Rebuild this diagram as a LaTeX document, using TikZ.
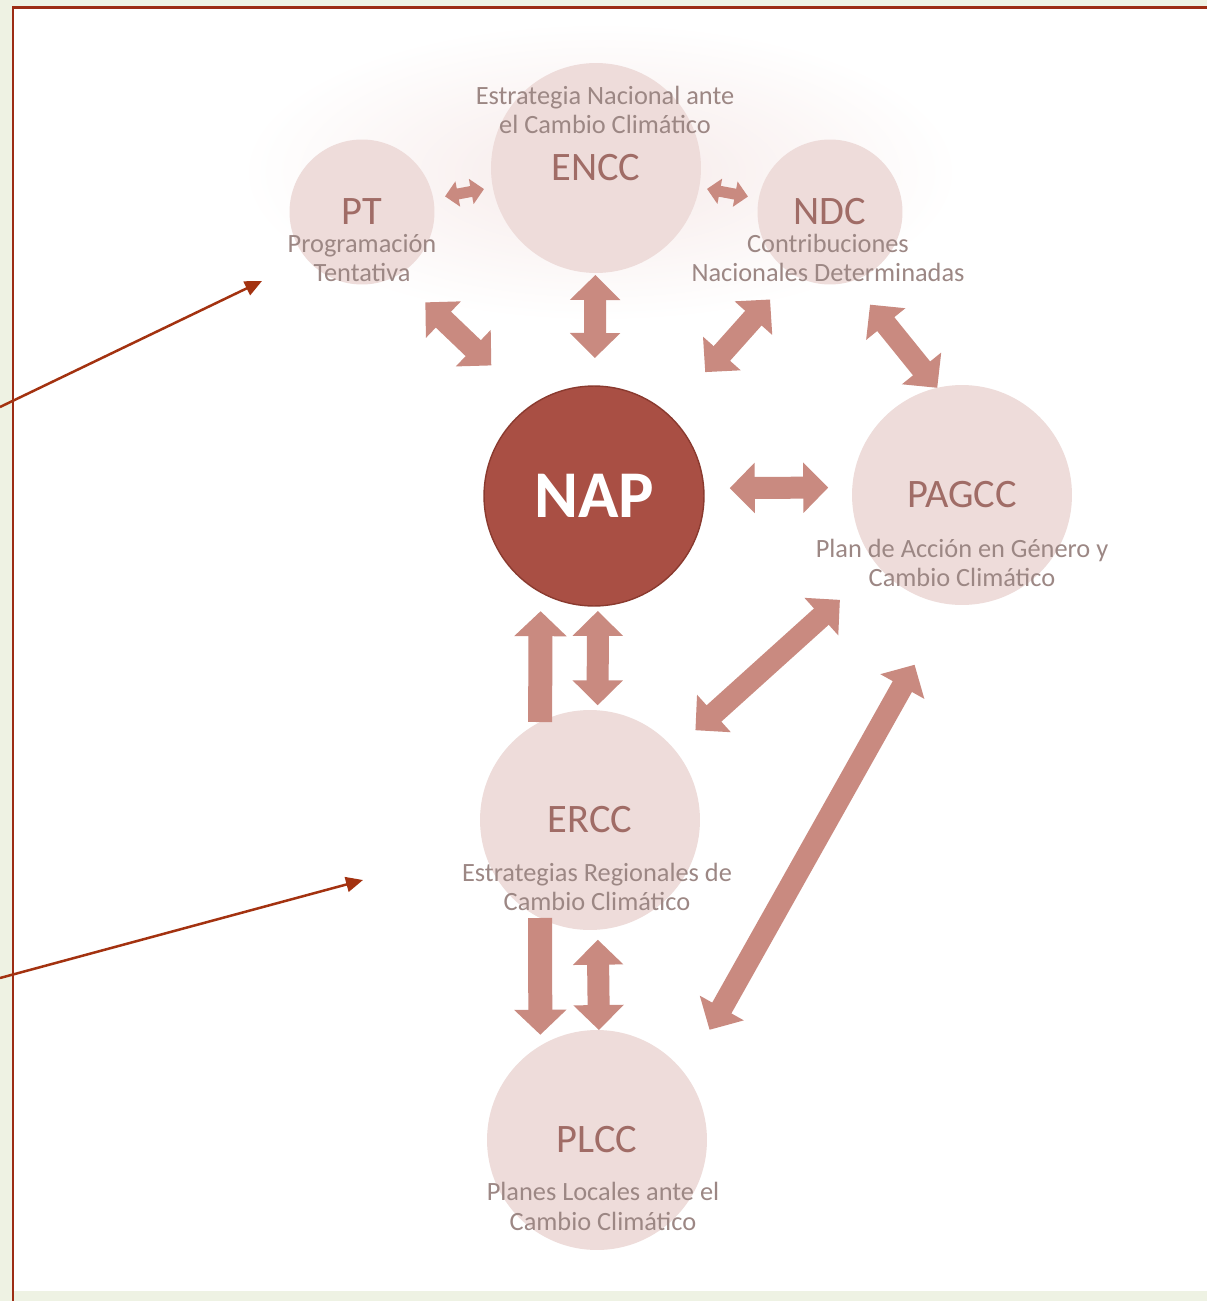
\documentclass[tikz,border=0pt]{standalone}
\usepackage{fontspec}
\setmainfont{Carlito}
\usetikzlibrary{arrows.meta,positioning,calc}
\definecolor{NapRed}{HTML}{A94F44}
\definecolor{NapEdge}{HTML}{8A3A2F}
\definecolor{BubbleFill}{HTML}{EEDCDA}
\definecolor{CloudFill}{HTML}{F6EAE9}
\definecolor{FlowArrow}{HTML}{C98A80}
\definecolor{TitleText}{HTML}{A06C66}
\definecolor{SubText}{HTML}{9C8784}
\definecolor{FrameRed}{HTML}{9C2C14}
\definecolor{PointerRed}{HTML}{A33210}
\definecolor{PageGreen}{HTML}{EEF2E3}

\begin{document}
\begin{tikzpicture}[
      x=0.02cm, y=-0.02cm,
      bubble/.style={circle,fill=BubbleFill,inner sep=0pt,outer sep=0pt,minimum size=4.4cm,text=TitleText,font=\fontsize{23}{26}\selectfont},
      small/.style={bubble,minimum size=2.9cm},
      core/.style={bubble,fill=NapRed,draw=NapEdge,line width=0.8pt,text=white,font=\fontsize{38}{40}\selectfont\bfseries},
      sub/.style={align=center,text=SubText,font=\fontsize{15}{17}\selectfont,inner sep=0pt},
      flow/.style={draw=FlowArrow,line width=0.44cm,{Triangle[length=0.5cm,width=0.98cm]}-{Triangle[length=0.5cm,width=0.98cm]}},
      oneway/.style={draw=FlowArrow,line width=0.48cm,-{Triangle[length=0.5cm,width=1.02cm]}},
      tiny/.style={draw=FlowArrow,line width=0.22cm,{Triangle[length=0.26cm,width=0.5cm]}-{Triangle[length=0.26cm,width=0.5cm]}},
      pointer/.style={draw=PointerRed,line width=0.05cm,-{Triangle[length=0.34cm,width=0.3cm]}}
    ]
      \useasboundingbox (0,0) rectangle (1207,1301);
      \fill[PageGreen] (0,0) rectangle (1207,1301);
      \fill[white] (13,8) rectangle (1207,1291);
      \draw[FrameRed,line width=0.06cm] (13,1301) -- (13,8) -- (1207,8);

      % soft cloud behind the national level
      \shade[inner color=CloudFill,outer color=white] (600,172) ellipse [x radius=7.2cm, y radius=3cm];

      \node[bubble,minimum size=4.2cm] (encc) at (596,168) {ENCC};
      \node[small] (pt) at (362,212) {PT};
      \node[small] (ndc) at (830,212) {NDC};
      \node[core] (nap) at (594,496) {NAP};
      \node[bubble] (pagcc) at (962,495) {PAGCC};
      \node[bubble] (ercc) at (590,820) {ERCC};
      \node[bubble] (plcc) at (597,1140) {PLCC};

      \node[sub] (enccsub) at ($(encc)+(9,-58)$) {Estrategia Nacional ante\\el Cambio Climático};
      \node[sub] (ptsub) at ($(pt)+(0,46)$) {Programación\\Tentativa};
      \node[sub] (ndcsub) at ($(ndc)+(-2,46)$) {Contribuciones\\Nacionales Determinadas};
      \node[sub] (pagccsub) at ($(pagcc)+(0,68)$) {Plan de Acción en Género y\\Cambio Climático};
      \node[sub] (erccsub) at ($(ercc)+(7,67)$) {Estrategias Regionales de\\Cambio Climático};
      \node[sub] (plccsub) at ($(plcc)+(6,66)$) {Planes Locales ante el\\Cambio Climático};

      \draw[tiny,shorten <=0.24cm,shorten >=0.18cm] (pt) -- (encc);
      \draw[tiny,shorten <=0.16cm,shorten >=0.22cm] (encc) -- (ndc);
      \draw[flow,shorten <=0.78cm,shorten >=1.14cm] (pt.-61) -- (nap.124);
      \draw[flow,shorten <=0.04cm,shorten >=0.56cm] (encc) -- (nap);
      \draw[flow,shorten <=0.68cm,shorten >=1.13cm] (ndc.-121) -- (nap.48);
      \draw[flow,shorten <=0.6cm] (ndc.-73) -- (pagcc.103);
      \draw[flow,shorten <=0.52cm,shorten >=0.48cm] (nap.4) -- (pagcc.176);
      \draw[flow,shorten <=1.02cm,shorten >=0.57cm] (pagcc.-140) -- (ercc.40);
      \draw[flow,shorten <=1.39cm,shorten >=1.01cm] (pagcc.-97) -- (plcc.37);
      \draw[oneway,shorten >=0.38cm] (ercc.117) -- (nap.-119);
      \draw[flow,shorten <=0.1cm,shorten >=0.1cm] (nap.-88) -- (ercc.86);
      \draw[oneway,shorten >=0.22cm] (ercc.-117) -- (plcc.121);
      \draw[flow,shorten <=0.2cm] (ercc.-86) -- (plcc.89);

      \coordinate (ptfrom) at (0,407);
      \coordinate (ptto) at (262,281);
      \coordinate (erccfrom) at (0,978);
      \coordinate (erccto) at (363,880);
      \draw[pointer] (ptfrom) -- (ptto);
      \draw[pointer] (erccfrom) -- (erccto);
    \end{tikzpicture}
\end{document}
